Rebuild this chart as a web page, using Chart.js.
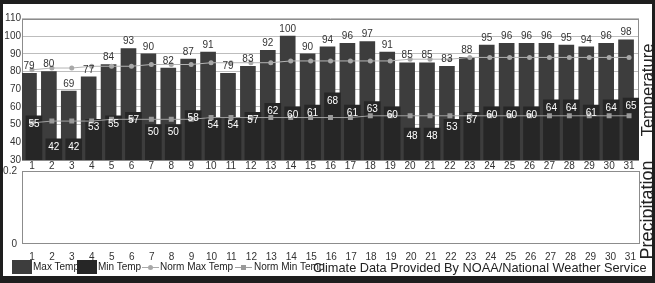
<!DOCTYPE html>
<html>
<head>
<meta charset="utf-8">
<script src="https://cdn.jsdelivr.net/npm/chart.js@4.4.1/dist/chart.umd.min.js"></script>
<style>
  html, body { margin: 0; padding: 0; background: #fff; }
  #frame {
    position: relative; width: 649px; height: 272px; overflow: hidden;
    border-style: solid; border-color: #1e1e1e; border-width: 4px 3px 7px 3px;
    font-family: "Liberation Sans", Arial, sans-serif; color: #222; background: #fff;
  }
  .abs { position: absolute; }
  #tempWrap { left: 0; top: 0; width: 640px; height: 172px; }
  #precWrap { left: 0; top: 156px; width: 640px; height: 104px; }
  .side { white-space: nowrap; line-height: normal; transform: translate(-50%, -50%) rotate(-90deg); }
  .leg { font-size: 10px; line-height: 12px; top: 257px; white-space: nowrap; }
  .box { top: 256px; width: 20px; height: 14px; }
  .ln { top: 263px; height: 1px; width: 17px; background: #aaa; }
  .mk { position: absolute; left: 6px; top: -2px; width: 5px; height: 5px; }
</style>
</head>
<body>
<div id="frame">
  <div id="tempWrap" class="abs"><canvas id="tempChart"></canvas></div>
  <div id="precWrap" class="abs"><canvas id="precChart"></canvas></div>

  <div class="abs side" style="left:644px; top:86px; font-size:16.5px;">Temperature</div>
  <div class="abs side" style="left:644px; top:206px; font-size:18px;">Precipitation</div>

  <div class="abs box" style="left:9px; background:#3d3d3d;"></div>
  <div class="abs leg" style="left:30px;">Max Temp</div>
  <div class="abs box" style="left:74px; background:#262626;"></div>
  <div class="abs leg" style="left:95px;">Min Temp</div>
  <div class="abs ln" style="left:139px;"><div class="mk" style="border-radius:50%; background:#a8a8a8;"></div></div>
  <div class="abs leg" style="left:157px;">Norm Max Temp</div>
  <div class="abs ln" style="left:232px; background:#a0a0a0;"><div class="mk" style="background:#9a9a9a;"></div></div>
  <div class="abs leg" style="left:251px;">Norm Min Temp</div>
  <div class="abs" style="left:310px; top:256px; font-size:12.75px; line-height:15px; white-space:nowrap;">Climate Data Provided By NOAA/National Weather Service</div>
</div>

<script>
const days = ["1", "2", "3", "4", "5", "6", "7", "8", "9", "10", "11", "12", "13", "14", "15", "16",
  "17", "18", "19", "20", "21", "22", "23", "24", "25", "26", "27", "28", "29", "30", "31"];
const maxTemp = [79, 80, 69, 77, 84, 93, 90, 82, 87, 91, 79, 83, 92, 100, 90, 94,
  96, 97, 91, 85, 85, 83, 88, 95, 96, 96, 96, 95, 94, 96, 98];
const minTemp = [55, 42, 42, 53, 55, 57, 50, 50, 58, 54, 54, 57, 62, 60, 61, 68,
  61, 63, 60, 48, 48, 53, 57, 60, 60, 60, 64, 64, 61, 64, 65];
const normMax = [81, 82, 82, 83, 83, 83, 84, 84, 84, 85, 85, 85, 85, 86, 86, 86,
  86, 86, 86, 87, 87, 87, 88, 88, 88, 88, 88, 88, 88, 88, 88];
const normMin = [51, 52, 52, 52, 53, 53, 53, 53, 53, 54, 54, 54, 54, 54, 54, 54,
  54, 55, 55, 55, 55, 55, 55, 55, 55, 55, 55, 55, 55, 55, 55];
const precip = [0, 0, 0, 0, 0, 0, 0, 0, 0, 0, 0, 0, 0, 0, 0, 0,
  0, 0, 0, 0, 0, 0, 0, 0, 0, 0, 0, 0, 0, 0, 0];
const tempTicks = [30, 40, 50, 60, 70, 80, 90, 100, 110];
const precTicks = [0, 0.2];

// max bars sit a bit left of the day, min bars a bit right (fraction of a day)
const MAX_SHIFT = 0.15;
const MIN_SHIFT = 0.1;

Chart.defaults.font.family = '"Liberation Sans", Arial, sans-serif';
Chart.defaults.font.size = 10;
Chart.defaults.color = "#333";

const boxPlugin = {
  id: "box",
  beforeDatasetsDraw(chart) {
    const a = chart.chartArea;
    const ctx = chart.ctx;
    ctx.save();
    ctx.strokeStyle = "#8c8c8c";
    ctx.lineWidth = 1;
    ctx.strokeRect(Math.round(a.left) + 0.5, Math.round(a.top) + 0.5,
      Math.round(a.right - a.left) - 1, Math.round(a.bottom - a.top) - 1);
    ctx.restore();
  },
};

// nudge the two bar series apart so they overlap like the original
const barNudge = {
  id: "barNudge",
  afterDatasetsUpdate(chart) {
    const x = chart.scales.x;
    const step = x.getPixelForValue(1) - x.getPixelForValue(0);
    chart.getDatasetMeta(0).data.forEach((b) => { b.x -= MAX_SHIFT * step; });
    chart.getDatasetMeta(1).data.forEach((b) => { b.x += MIN_SHIFT * step; });
  },
};

const valueLabels = {
  id: "valueLabels",
  afterDatasetsDraw(chart) {
    const ctx = chart.ctx;
    ctx.save();
    ctx.font = '10px "Liberation Sans", Arial, sans-serif';
    ctx.textAlign = "center";
    ctx.textBaseline = "middle";
    ctx.fillStyle = "#333";
    chart.getDatasetMeta(0).data.forEach((bar, i) => {
      ctx.fillText(maxTemp[i], bar.x, bar.y - 7);
    });
    ctx.fillStyle = "#fff";
    chart.getDatasetMeta(1).data.forEach((bar, i) => {
      ctx.fillText(minTemp[i], bar.x, bar.y + 8);
    });
    ctx.restore();
  },
};

function fixedTicks(values) {
  return (scale) => { scale.ticks = values.map((v) => ({ value: v })); };
}

function initTempChart() {
  const ctx = document.getElementById("tempChart").getContext("2d");
  new Chart(ctx, {
    type: "bar",
    data: {
      labels: days,
      datasets: [
        {
          label: "Max Temp",
          data: maxTemp,
          backgroundColor: "#3d3d3d",
          borderWidth: 0,
          grouped: false,
          barThickness: 15,
          order: 3,
        },
        {
          label: "Min Temp",
          data: minTemp,
          backgroundColor: "#262626",
          borderWidth: 0,
          grouped: false,
          barThickness: 16,
          order: 2,
        },
        {
          type: "line",
          label: "Norm Max Temp",
          data: normMax,
          borderColor: "#b4b4b4",
          borderWidth: 1,
          pointStyle: "circle",
          pointRadius: 2.5,
          pointBorderWidth: 0,
          pointBackgroundColor: "#a8a8a8",
          order: 1,
        },
        {
          type: "line",
          label: "Norm Min Temp",
          data: normMin,
          borderColor: "#a0a0a0",
          borderWidth: 1,
          pointStyle: "rect",
          pointRadius: 3.5,
          pointBorderWidth: 0,
          pointBackgroundColor: "#9a9a9a",
          order: 0,
        },
      ],
    },
    options: {
      responsive: true,
      maintainAspectRatio: false,
      animation: false,
      layout: { padding: { top: 14.5, right: 2, left: 0, bottom: 0 } },
      plugins: { legend: { display: false }, tooltip: { enabled: false } },
      scales: {
        x: {
          offset: true,
          grid: { display: false, drawTicks: false },
          border: { display: false },
          ticks: { padding: 0, maxRotation: 0, autoSkip: false },
          afterFit: (s) => { s.height = 16; },
        },
        y: {
          min: 30,
          max: 110,
          beginAtZero: false,
          afterBuildTicks: fixedTicks(tempTicks),
          grid: { color: "#bdbdbd", drawTicks: false },
          border: { display: false },
          ticks: { padding: 1 },
          afterFit: (s) => { s.width = 19; },
        },
      },
    },
    plugins: [boxPlugin, barNudge, valueLabels],
  });
}

function initPrecChart() {
  const ctx = document.getElementById("precChart").getContext("2d");
  new Chart(ctx, {
    type: "bar",
    data: {
      labels: days,
      datasets: [
        {
          label: "Precipitation",
          data: precip,
          backgroundColor: "#3d3d3d",
          borderWidth: 0,
        },
      ],
    },
    options: {
      responsive: true,
      maintainAspectRatio: false,
      animation: false,
      layout: { padding: { top: 9, right: 2, left: 0, bottom: 0 } },
      plugins: { legend: { display: false }, tooltip: { enabled: false } },
      scales: {
        x: {
          grid: { display: false, drawTicks: false },
          border: { display: false },
          ticks: { padding: 7, maxRotation: 0, autoSkip: false },
          afterFit: (s) => { s.height = 20; },
        },
        y: {
          min: 0,
          max: 0.2,
          afterBuildTicks: fixedTicks(precTicks),
          grid: { display: false, drawTicks: false },
          border: { display: false },
          ticks: { padding: 5 },
          afterFit: (s) => { s.width = 19; },
        },
      },
    },
    plugins: [boxPlugin],
  });
}

document.addEventListener("DOMContentLoaded", () => {
  initTempChart();
  initPrecChart();
});
</script>
</body>
</html>
